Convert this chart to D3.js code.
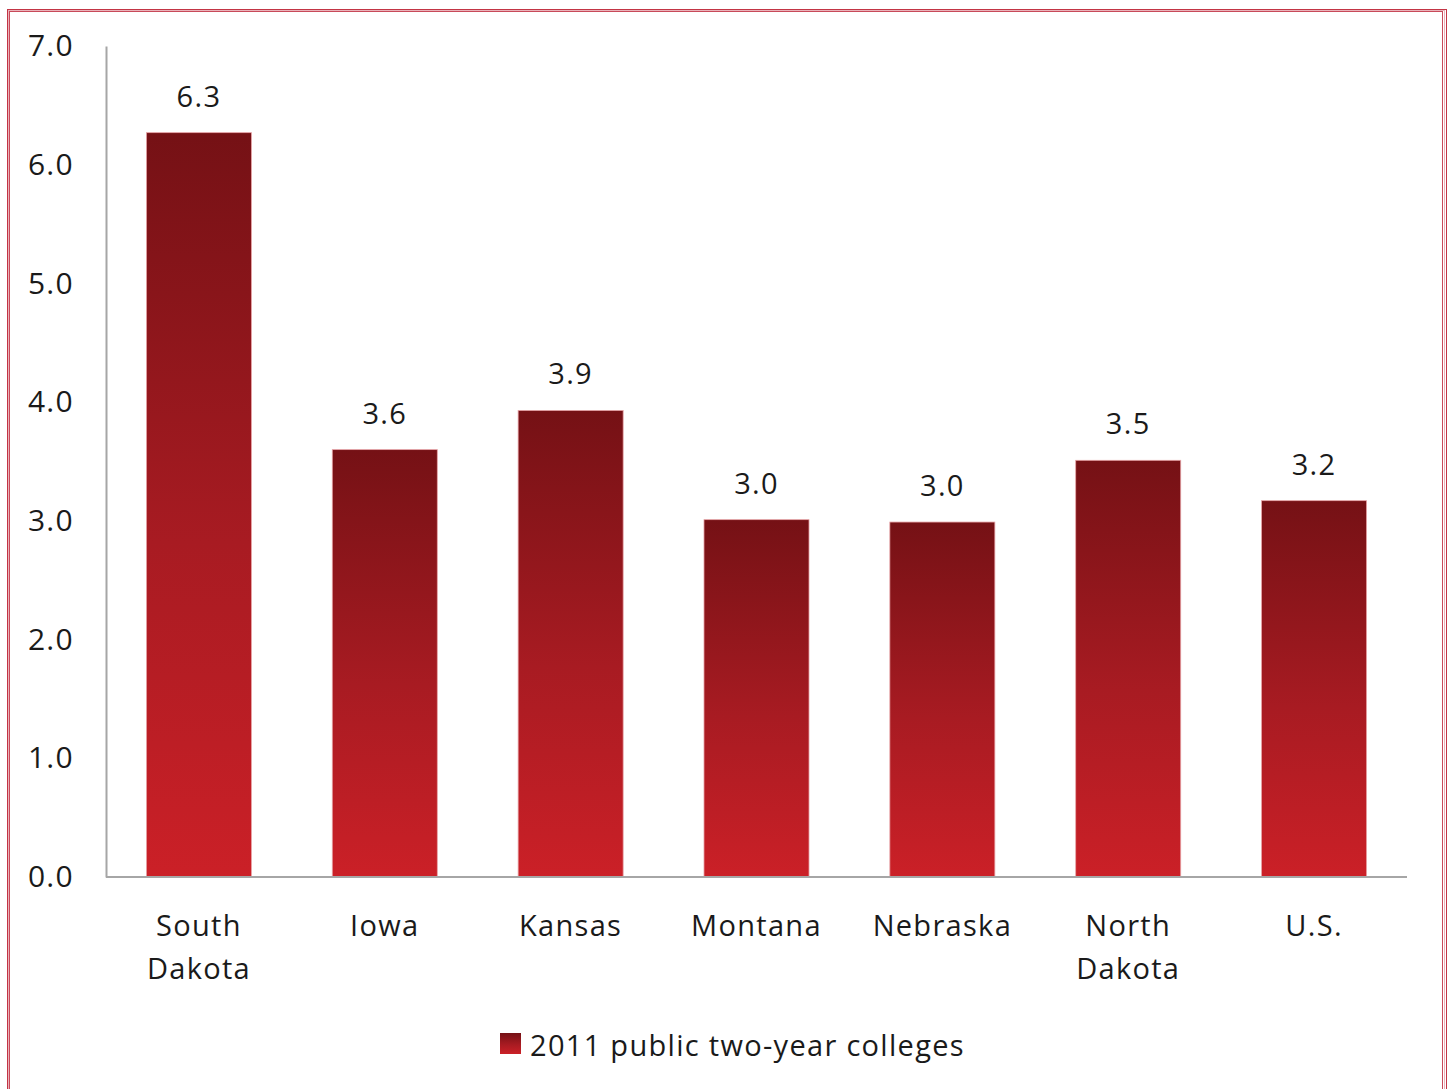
<!DOCTYPE html>
<html>
<head>
<meta charset="utf-8">
<script src="https://cdn.jsdelivr.net/npm/d3@7"></script>
<style>
  body { margin: 0; background: #fff; }
  text { font-family: "Open Sans", "Noto Sans", sans-serif; fill: #1a1a1a; letter-spacing: 1.3px; }
</style>
</head>
<body>
<script>
// chart data
const categories = ["South Dakota", "Iowa", "Kansas", "Montana", "Nebraska", "North Dakota", "U.S."];
const values = [6.27, 3.60, 3.93, 3.01, 2.99, 3.51, 3.17];
const valueLabels = ["6.3", "3.6", "3.9", "3.0", "3.0", "3.5", "3.2"];
const yTicks = [0, 1, 2, 3, 4, 5, 6, 7];
const seriesName = "2011 public two-year colleges";

const width = 1448, height = 1089;
const plotLeft = 106, plotRight = 1407, plotTop = 46, plotBottom = 877;

const svg = d3.select("body").append("svg")
  .attr("width", width)
  .attr("height", height);

// gradient for bars
const defs = svg.append("defs");
const grad = defs.append("linearGradient")
  .attr("id", "barGrad")
  .attr("x1", 0).attr("y1", 0).attr("x2", 0).attr("y2", 1);
grad.append("stop").attr("offset", "0%").attr("stop-color", "#751115");
grad.append("stop").attr("offset", "55%").attr("stop-color", "#a81b22");
grad.append("stop").attr("offset", "100%").attr("stop-color", "#cb2027");

// outer double border
[[7.5, 9.5, "#c33545"], [8.5, 10.5, "#eab3ba"], [9.5, 11.5, "#c84a5a"]].forEach(b => {
  svg.append("rect")
    .attr("x", b[0]).attr("y", b[1])
    .attr("width", 1446.5 - 2 * (b[0] - 7.5) - 7.5 - (b[0] - 7.5)).attr("height", height)
    .attr("fill", "none").attr("stroke", b[2]).attr("stroke-width", 1);
});

const x = d3.scaleBand()
  .domain(categories)
  .range([plotLeft, plotRight])
  .paddingInner(0.435)
  .paddingOuter(0.2175);

const y = d3.scaleLinear()
  .domain([0, 7])
  .range([plotBottom, plotTop]);

// y axis
const yAxis = svg.append("g")
  .attr("transform", "translate(" + plotLeft + ",0)")
  .call(d3.axisLeft(y).tickValues(yTicks).tickSize(0).tickPadding(32).tickFormat(d3.format(".1f")));
yAxis.select(".domain").attr("stroke", "#a6a6a6").attr("stroke-width", 2);
yAxis.selectAll("text")
  .style("font-size", "30px")
  .attr("fill", "#1a1a1a");

// bars
svg.selectAll(".bar")
  .data(values)
  .join("rect")
  .attr("class", "bar")
  .attr("x", (d, i) => x(categories[i]))
  .attr("y", d => y(d))
  .attr("width", x.bandwidth())
  .attr("height", d => y(0) - y(d))
  .attr("fill", "url(#barGrad)")
  .attr("stroke", "#e7a3a6")
  .attr("stroke-width", 0.8);

// value labels
svg.selectAll(".vlabel")
  .data(values)
  .join("text")
  .attr("class", "vlabel")
  .attr("x", (d, i) => x(categories[i]) + x.bandwidth() / 2)
  .attr("y", d => y(d) - 26)
  .attr("text-anchor", "middle")
  .style("font-size", "29px")
  .text((d, i) => valueLabels[i]);

// x axis baseline
svg.append("line")
  .attr("x1", plotLeft).attr("x2", plotRight)
  .attr("y1", plotBottom).attr("y2", plotBottom)
  .attr("stroke", "#a6a6a6").attr("stroke-width", 2);

// category labels (wrapped)
categories.forEach(c => {
  const words = c.split(" ");
  const t = svg.append("text")
    .attr("text-anchor", "middle")
    .style("font-size", "29px")
    .attr("x", x(c) + x.bandwidth() / 2)
    .attr("y", 936);
  words.forEach((w, i) => {
    t.append("tspan")
      .attr("x", x(c) + x.bandwidth() / 2)
      .attr("dy", i === 0 ? 0 : 43)
      .text(w);
  });
});

// legend
const legend = svg.append("g");
legend.append("rect")
  .attr("x", 500).attr("y", 1033)
  .attr("width", 21).attr("height", 21)
  .attr("fill", "url(#barGrad)");
legend.append("text")
  .attr("x", 530).attr("y", 1056)
  .style("font-size", "29px")
  .text(seriesName);
</script>
</body>
</html>
